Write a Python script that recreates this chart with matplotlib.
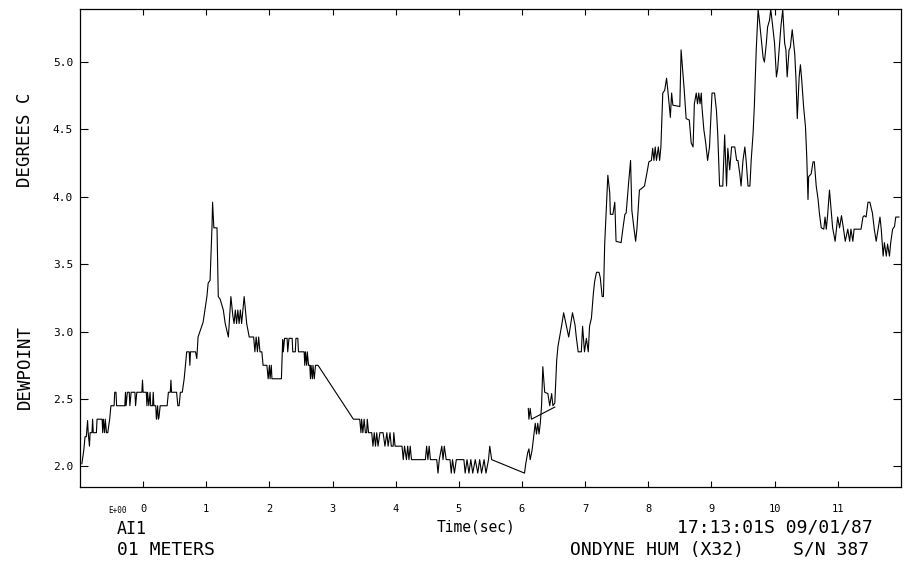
import matplotlib
matplotlib.use("Agg")
import matplotlib.pyplot as plt

# dewpoint trace (time in s, degrees C)
time_s = [
    -0.97, -0.94, -0.92, -0.90, -0.88, -0.87, -0.85, -0.84, -0.81, -0.80,
    -0.79, -0.74, -0.73, -0.65, -0.64, -0.63, -0.61, -0.60, -0.58, -0.56,
    -0.53, -0.51, -0.46, -0.45, -0.43, -0.42, -0.29, -0.28, -0.27, -0.25,
    -0.22, -0.21, -0.19, -0.13, -0.12, -0.10, -0.02, -0.01, 0.00, 0.05,
    0.06, 0.07, 0.09, 0.11, 0.12, 0.15, 0.16, 0.17, 0.20, 0.21,
    0.23, 0.24, 0.25, 0.27, 0.38, 0.40, 0.43, 0.44, 0.45, 0.53,
    0.55, 0.57, 0.59, 0.62, 0.65, 0.67, 0.69, 0.73, 0.74, 0.75,
    0.79, 0.83, 0.85, 0.87, 0.95, 1.01, 1.03, 1.06, 1.09, 1.10,
    1.12, 1.17, 1.19, 1.22, 1.27, 1.30, 1.35, 1.39, 1.42, 1.44,
    1.46, 1.48, 1.50, 1.52, 1.54, 1.56, 1.60, 1.64, 1.68, 1.75,
    1.77, 1.79, 1.81, 1.83, 1.85, 1.88, 1.90, 1.96, 1.98, 2.00,
    2.01, 2.03, 2.04, 2.19, 2.21, 2.22, 2.24, 2.28, 2.29, 2.31,
    2.36, 2.37, 2.41, 2.42, 2.45, 2.46, 2.55, 2.56, 2.57, 2.59,
    2.60, 2.62, 2.64, 2.65, 2.66, 2.68, 2.69, 2.71, 2.73, 2.77,
    3.33, 3.43, 3.45, 3.46, 3.48, 3.50, 3.52, 3.54, 3.55, 3.57,
    3.62, 3.64, 3.66, 3.68, 3.70, 3.72, 3.75, 3.80, 3.83, 3.86,
    3.88, 3.91, 3.93, 3.96, 3.97, 3.99, 4.10, 4.12, 4.14, 4.17,
    4.19, 4.21, 4.23, 4.25, 4.47, 4.49, 4.51, 4.53, 4.55, 4.65,
    4.67, 4.69, 4.73, 4.75, 4.77, 4.80, 4.86, 4.88, 4.90, 4.93,
    4.96, 5.08, 5.10, 5.13, 5.16, 5.19, 5.22, 5.26, 5.30, 5.33,
    5.36, 5.40, 5.43, 5.47, 5.49, 5.52, 6.04, 6.06, 6.09, 6.11,
    6.13, 6.16, 6.19, 6.21, 6.23, 6.25, 6.27, 6.29, 6.31, 6.33,
    6.36, 6.41, 6.44, 6.47, 6.49, 6.52, 6.55, 6.57, 6.63, 6.66,
    6.70, 6.74, 6.77, 6.80, 6.84, 6.86, 6.89, 6.94, 6.96, 6.99,
    7.02, 7.05, 7.07, 7.10, 7.13, 7.15, 7.18, 7.22, 7.24, 7.27,
    7.29, 7.31, 7.34, 7.36, 7.39, 7.40, 7.44, 7.47, 7.49, 7.57,
    7.60, 7.63, 7.65, 7.69, 7.72, 7.74, 7.77, 7.80, 7.82, 7.86,
    7.89, 7.94, 7.98, 8.01, 8.05, 8.07, 8.09, 8.11, 8.13, 8.16,
    8.18, 8.20, 8.23, 8.26, 8.29, 8.31, 8.35, 8.37, 8.39, 8.50,
    8.52, 8.57, 8.60, 8.65, 8.68, 8.71, 8.73, 8.76, 8.78, 8.80,
    8.82, 8.84, 8.85, 8.88, 8.91, 8.94, 8.97, 9.01, 9.05, 9.08,
    9.10, 9.13, 9.18, 9.21, 9.24, 9.26, 9.29, 9.32, 9.37, 9.40,
    9.42, 9.45, 9.47, 9.50, 9.53, 9.55, 9.58, 9.61, 9.63, 9.66,
    9.68, 9.71, 9.74, 9.76, 9.79, 9.82, 9.84, 9.87, 9.89, 9.92,
    9.94, 9.96, 10.00, 10.03, 10.05, 10.08, 10.10, 10.13, 10.16, 10.18,
    10.20, 10.23, 10.25, 10.28, 10.32, 10.34, 10.36, 10.39, 10.41, 10.43,
    10.46, 10.49, 10.51, 10.53, 10.54, 10.58, 10.61, 10.63, 10.66, 10.69,
    10.71, 10.74, 10.78, 10.80, 10.82, 10.84, 10.87, 10.90, 10.92, 10.96,
    11.00, 11.03, 11.06, 11.09, 11.12, 11.16, 11.19, 11.21, 11.24, 11.26,
    11.37, 11.40, 11.42, 11.45, 11.48, 11.51, 11.55, 11.58, 11.61, 11.64,
    11.67, 11.69, 11.72, 11.74, 11.77, 11.79, 11.82, 11.84, 11.87, 11.90,
    11.92, 11.97,
]
dewpoint_c = [
    2.02, 2.12, 2.22, 2.22, 2.34, 2.25, 2.15, 2.25, 2.25, 2.35,
    2.25, 2.25, 2.35, 2.35, 2.25, 2.35, 2.25, 2.35, 2.25, 2.25,
    2.35, 2.45, 2.45, 2.55, 2.55, 2.45, 2.45, 2.55, 2.45, 2.55,
    2.55, 2.45, 2.55, 2.55, 2.45, 2.55, 2.55, 2.64, 2.55, 2.55,
    2.45, 2.55, 2.45, 2.55, 2.45, 2.45, 2.55, 2.45, 2.45, 2.35,
    2.45, 2.35, 2.36, 2.45, 2.45, 2.55, 2.55, 2.64, 2.55, 2.55,
    2.45, 2.45, 2.55, 2.55, 2.65, 2.75, 2.85, 2.85, 2.75, 2.85,
    2.85, 2.85, 2.80, 2.96, 3.07, 3.26, 3.36, 3.38, 3.77, 3.96,
    3.77, 3.77, 3.26, 3.24, 3.16, 3.06, 2.96, 3.26, 3.12, 3.06,
    3.16, 3.06, 3.16, 3.06, 3.16, 3.06, 3.26, 3.06, 2.96, 2.96,
    2.85, 2.96, 2.85, 2.96, 2.85, 2.85, 2.75, 2.75, 2.65, 2.75,
    2.65, 2.75, 2.65, 2.65, 2.94, 2.85, 2.95, 2.95, 2.85, 2.95,
    2.95, 2.85, 2.85, 2.95, 2.95, 2.85, 2.85, 2.75, 2.85, 2.75,
    2.85, 2.75, 2.75, 2.65, 2.75, 2.65, 2.75, 2.65, 2.75, 2.75,
    2.35, 2.35, 2.25, 2.35, 2.25, 2.35, 2.25, 2.25, 2.35, 2.25,
    2.25, 2.15, 2.25, 2.15, 2.25, 2.15, 2.25, 2.25, 2.15, 2.25,
    2.15, 2.25, 2.15, 2.15, 2.25, 2.15, 2.15, 2.05, 2.15, 2.05,
    2.15, 2.05, 2.15, 2.05, 2.05, 2.15, 2.05, 2.15, 2.05, 2.05,
    1.95, 2.05, 2.15, 2.05, 2.15, 2.05, 2.05, 1.95, 2.05, 1.95,
    2.05, 2.05, 1.95, 2.05, 1.95, 2.05, 1.95, 2.05, 1.95, 2.05,
    1.95, 2.05, 1.95, 2.05, 2.15, 2.05, 1.95, 2.02, 2.10, 2.13,
    2.05, 2.12, 2.24, 2.32, 2.24, 2.32, 2.24, 2.32, 2.45, 2.74,
    2.55, 2.54, 2.45, 2.54, 2.45, 2.47, 2.79, 2.89, 3.05, 3.14,
    3.05, 2.96, 3.05, 3.14, 3.05, 2.96, 2.85, 2.85, 3.04, 2.85,
    2.95, 2.85, 3.04, 3.10, 3.28, 3.37, 3.44, 3.44, 3.40, 3.26,
    3.26, 3.65, 3.95, 4.16, 4.03, 3.87, 3.87, 3.96, 3.67, 3.66,
    3.77, 3.87, 3.88, 4.11, 4.27, 3.90, 3.78, 3.67, 3.76, 4.05,
    4.06, 4.08, 4.18, 4.26, 4.27, 4.36, 4.27, 4.37, 4.27, 4.37,
    4.27, 4.37, 4.77, 4.79, 4.88, 4.79, 4.59, 4.77, 4.68, 4.67,
    5.09, 4.79, 4.58, 4.57, 4.40, 4.37, 4.69, 4.77, 4.69, 4.77,
    4.69, 4.77, 4.67, 4.50, 4.40, 4.27, 4.37, 4.77, 4.77, 4.64,
    4.47, 4.08, 4.08, 4.46, 4.08, 4.36, 4.20, 4.37, 4.37, 4.27,
    4.27, 4.17, 4.08, 4.27, 4.37, 4.27, 4.08, 4.08, 4.27, 4.47,
    4.67, 5.09, 5.39, 5.31, 5.17, 5.03, 5.00, 5.14, 5.26, 5.31,
    5.39, 5.31, 5.14, 4.89, 4.95, 5.14, 5.26, 5.39, 5.14, 5.09,
    4.89, 5.09, 5.11, 5.24, 5.06, 4.87, 4.58, 4.89, 4.98, 4.87,
    4.67, 4.52, 4.30, 3.98, 4.15, 4.17, 4.26, 4.26, 4.08, 3.98,
    3.88, 3.77, 3.76, 3.85, 3.76, 3.86, 4.05, 3.88, 3.77, 3.67,
    3.85, 3.77, 3.86, 3.77, 3.67, 3.76, 3.67, 3.76, 3.67, 3.76,
    3.76, 3.85, 3.86, 3.85, 3.96, 3.96, 3.88, 3.76, 3.67, 3.76,
    3.85, 3.76, 3.56, 3.66, 3.56, 3.65, 3.56, 3.66, 3.76, 3.78,
    3.85, 3.85,
]

# short overlapping retrace near t = 6.1 .. 6.5
overlap_time = [6.10, 6.11, 6.13, 6.15, 6.52]
overlap_dewpoint = [2.43, 2.35, 2.43, 2.35, 2.44]

x_ticks = list(range(0, 12))
y_ticks = [2.0, 2.5, 3.0, 3.5, 4.0, 4.5, 5.0]

mono = "DejaVu Sans Mono"

fig = plt.figure(figsize=(9.09, 5.68), dpi=100)
ax = fig.add_axes([0.088, 0.1426, 0.903, 0.8414])

ax.plot(time_s, dewpoint_c, color="black", lw=0.8)
ax.plot(overlap_time, overlap_dewpoint, color="black", lw=0.8)

ax.set_xlim(-1, 12)
ax.set_ylim(1.847, 5.393)

ax.set_xticks(x_ticks)
ax.set_xticklabels([str(t) for t in x_ticks], fontfamily=mono, fontsize=7.5)
ax.set_yticks(y_ticks)
ax.set_yticklabels([f"{v:.1f}" for v in y_ticks], fontfamily=mono, fontsize=8)

ax.tick_params(axis="x", direction="in", length=4, width=0.8, pad=12, top=True)
ax.tick_params(axis="y", direction="in", length=6, width=0.8, pad=5, right=True)
for sp in ax.spines.values():
    sp.set_linewidth(0.9)

# rotated axis captions
fig.text(0.0275, 0.7535, "DEGREES C", rotation=90, ha="center", va="center",
         fontfamily=mono, fontsize=12.5)
fig.text(0.0275, 0.354, "DEWPOINT", rotation=90, ha="center", va="center",
         fontfamily=mono, fontsize=12.5)

# footer block
fig.text(108 / 909, 0.101, "E+00", ha="left", va="center", fontfamily=mono, fontsize=5.5)
fig.text(117 / 909, 0.068, "AI1", ha="left", va="center", fontfamily=mono, fontsize=12)
fig.text(117 / 909, 0.0317, "01 METERS", ha="left", va="center", fontfamily=mono, fontsize=13)
fig.text(437 / 909, 0.072, "Time(sec)", ha="left", va="center", fontfamily=mono, fontsize=10.5)
fig.text(677 / 909, 0.072, "17:13:01S 09/01/87", ha="left", va="center",
         fontfamily=mono, fontsize=13)
fig.text(570 / 909, 0.0317, "ONDYNE HUM (X32)", ha="left", va="center",
         fontfamily=mono, fontsize=13)
fig.text(793 / 909, 0.0317, "S/N 387", ha="left", va="center", fontfamily=mono, fontsize=13)

fig.savefig("out.png", dpi=100)
